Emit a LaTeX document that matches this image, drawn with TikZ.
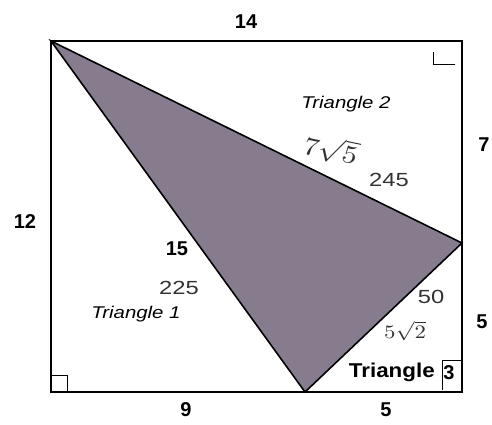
\documentclass[tikz,border=0pt]{standalone}
\usepackage{fontspec}
\setmainfont{Liberation Sans}
\usetikzlibrary{calc}
\definecolor{greyfill}{RGB}{134,124,142}
\definecolor{pencil}{RGB}{50,50,50}
\tikzset{
  side/.style={font=\bfseries\fontsize{20}{22}\selectfont},
  tname/.style={font=\itshape\fontsize{17}{19}\selectfont, xscale=1.2, transform shape},
  hand/.style={font=\fontsize{19}{21}\selectfont, text=pencil, xscale=1.25, transform shape},
  handroot/.style={text=pencil, xscale=1.2, transform shape}
}
\begin{document}
\begin{tikzpicture}[x=1pt,y=-1pt]
\useasboundingbox (0,0) rectangle (492,424);

% corners of the box and of the shaded triangle
\coordinate (tl) at (51,41);
\coordinate (tr) at (462,41);
\coordinate (br) at (462,392);
\coordinate (bl) at (51,392);
\coordinate (rv) at (462,243);
\coordinate (bv) at (305,392);

\fill[greyfill] (tl) -- (rv) -- (bv) -- cycle;
\draw[line width=1.6pt] (tl) -- (rv) -- (bv) -- cycle;
\draw[line width=1.8pt] (tl) rectangle (br);

% right angle marks
\draw[line width=0.8pt] (433,52) -- (433,64) -- (455,64);
\draw[line width=0.8pt] (51,375) -- (67,375) -- (67,392);
\draw[line width=0.8pt] (442,390) -- (442,360) -- (462,360);

% side lengths
\node[side] (s14) at (246,22) {14};
\node[side] (s12) at (25,222) {12};
\node[side] (s7) at (484,145) {7};
\node[side] (s5r) at (482,322) {5};
\node[side] (s9) at (186,410) {9};
\node[side] (s5b) at (386,410) {5};
\node[side] (s15) at (177,249) {15};

% triangle names
\node[tname] (t2) at (346,104) {Triangle 2};
\node[tname] (t1) at (136,314) {Triangle 1};
\node[font=\bfseries\fontsize{20}{22}\selectfont, xscale=1.12, transform shape, anchor=east, inner sep=0pt] (t3) at (435,372) {Triangle};
\node[font=\bfseries\fontsize{20}{22}\selectfont, inner sep=0pt] (t3n) at (449,373) {3};

% handwritten notes
\node[handroot, rotate=-14] (h1) at (331,150) {\scalebox{2.5}{$7\sqrt{5}$}};
\node[hand] (h2) at (389,180) {245};
\node[hand] (h3) at (179,288) {225};
\node[hand] (h4) at (431,297) {50};
\node[handroot] (h5) at (405,331) {\scalebox{1.9}{$5\sqrt{2}$}};
\end{tikzpicture}
\end{document}
